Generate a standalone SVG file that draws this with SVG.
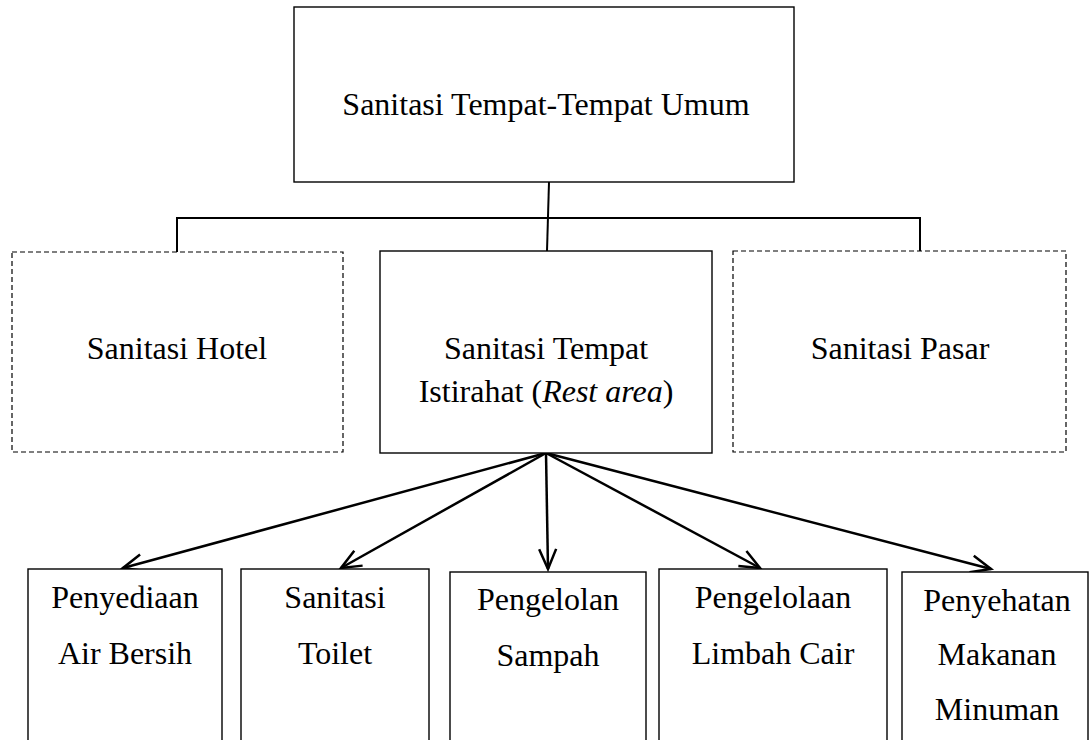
<svg xmlns="http://www.w3.org/2000/svg" width="1090" height="740" viewBox="0 0 1090 740">
<style>
.box{fill:#fff;stroke:#000;stroke-width:1.4}
.dash{fill:#fff;stroke:#000;stroke-width:1.2;stroke-dasharray:5 3}
.t{font-family:"Liberation Serif","Times New Roman",serif;font-size:32px;fill:#000;text-anchor:middle}
.c{fill:none;stroke:#000;stroke-width:2}
.a{fill:none;stroke:#000;stroke-width:2.5}
</style>
<defs>
<marker id="arr" markerUnits="userSpaceOnUse" markerWidth="26" markerHeight="22" viewBox="-22 -11 26 22" refX="0" refY="0" orient="auto">
<path d="M-20,-8.5 L0,0 L-20,8.5" fill="none" stroke="#000" stroke-width="2.5"/>
</marker>
</defs>
<rect width="1090" height="740" fill="#fff"/>
<g id="connectors">
<line class="c" x1="549" y1="182" x2="547" y2="251"/>
<polyline class="c" points="177,262 177,218 920,218 920,262"/>
<line class="a" x1="546" y1="453" x2="123" y2="568" marker-end="url(#arr)"/>
<line class="a" x1="546" y1="453" x2="341" y2="568" marker-end="url(#arr)"/>
<line class="a" x1="546" y1="453" x2="548" y2="569" marker-end="url(#arr)"/>
<line class="a" x1="546" y1="453" x2="760" y2="568" marker-end="url(#arr)"/>
<line class="a" x1="546" y1="453" x2="991" y2="569" marker-end="url(#arr)"/>
</g>
<g id="root">
<rect class="box" x="294" y="7" width="500" height="175"/>
<text class="t" x="546" y="115">Sanitasi Tempat-Tempat Umum</text>
</g>
<g id="hotel">
<rect class="dash" x="12" y="252" width="331" height="200"/>
<text class="t" x="177" y="359">Sanitasi Hotel</text>
</g>
<g id="restarea">
<rect class="box" x="380" y="251" width="332" height="202"/>
<text class="t" x="546" y="359">Sanitasi Tempat</text>
<text class="t" x="546" y="402">Istirahat (<tspan font-style="italic">Rest area</tspan>)</text>
</g>
<g id="pasar">
<rect class="dash" x="733" y="251" width="333" height="201"/>
<text class="t" x="900" y="359">Sanitasi Pasar</text>
</g>
<g id="airbersih">
<rect class="box" x="28" y="569" width="194" height="180"/>
<text class="t" x="125" y="608">Penyediaan</text>
<text class="t" x="125" y="664">Air Bersih</text>
</g>
<g id="toilet">
<rect class="box" x="241" y="569" width="188" height="180"/>
<text class="t" x="335" y="608">Sanitasi</text>
<text class="t" x="335" y="664">Toilet</text>
</g>
<g id="sampah">
<rect class="box" x="450" y="572" width="196" height="180"/>
<text class="t" x="548" y="610">Pengelolan</text>
<text class="t" x="548" y="666">Sampah</text>
</g>
<g id="limbah">
<rect class="box" x="659" y="569" width="228" height="180"/>
<text class="t" x="773" y="608">Pengelolaan</text>
<text class="t" x="773" y="664">Limbah Cair</text>
</g>
<g id="makanan">
<rect class="box" x="902" y="572" width="186" height="180"/>
<text class="t" x="997" y="611">Penyehatan</text>
<text class="t" x="997" y="665">Makanan</text>
<text class="t" x="997" y="720">Minuman</text>
</g>
</svg>
